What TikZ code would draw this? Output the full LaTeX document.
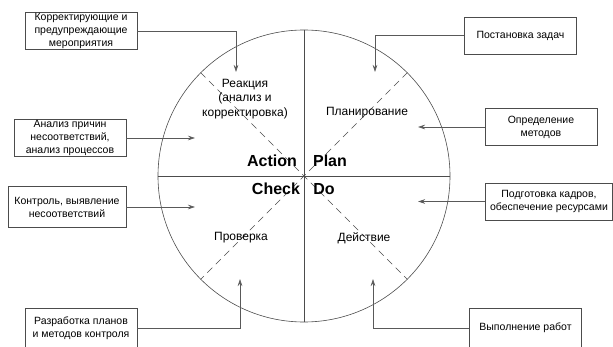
\documentclass[tikz,border=0pt]{standalone}
\usepackage{fontspec}
\setmainfont{Liberation Sans}
\usetikzlibrary{arrows.meta,positioning,calc}

\begin{document}
\begin{tikzpicture}[x=1pt,y=-1pt,>={Stealth[length=7pt,width=4.5pt]},
  line width=0.6pt,
  box/.style={rectangle,draw=black!70,align=center,inner sep=1pt,
    font=\fontsize{10.5}{13}\selectfont,minimum width=112pt,minimum height=37pt},
  phase/.style={font=\fontsize{16}{18}\selectfont\bfseries},
  stage/.style={align=center,font=\fontsize{12}{14.5}\selectfont},
  link/.style={->,draw=black!65}]
    \useasboundingbox (0,0) rectangle (613,347);
    \clip (0,0) rectangle (613,347);

    % the cycle
    \node[circle,draw=black!70,minimum size=292pt,inner sep=0pt](cyc) at (304,176) {};
    \draw[black!70] (cyc.north) -- (cyc.south)
                    (cyc.west) -- (cyc.east);
    \draw[black!70,dash pattern=on 7pt off 5pt] (cyc.45) -- (cyc.225)
                    (cyc.135) -- (cyc.315);

    \node[stage](react) at (245,99) {Реакция\\(анализ и\\корректировка)};
    \node[stage](plan) at (367,113) {Планирование};
    \node[stage](check) at (241,238) {Проверка};
    \node[stage](act) at (364,238) {Действие};
    \node[phase](A) at (272,161) {Action};
    \node[phase](P) at (330,161) {Plan};
    \node[phase](C) at (276,189) {Check};
    \node[phase](D) at (324,189) {Do};

    % the boxes
    \node[box](korr) at (81,31) {Корректирующие и\\предупреждающие\\мероприятия};
    \node[box](post) at (520.5,35.5) {Постановка задач};
    \node[box](anal) at (70,138) {Анализ причин\\несоответствий,\\анализ процессов};
    \node[box,minimum width=118pt,minimum height=41pt](kontr) at (67,207) {Контроль, выявление\\несоответствий};
    \node[box,minimum height=39pt](razr) at (81,328) {Разработка планов\\и методов контроля};
    \node[box](opred) at (541,127) {Определение\\методов};
    \node[box,minimum width=127pt](podg) at (549,201.5) {Подготовка кадров,\\обеспечение ресурсами};
    \node[box,minimum height=39pt](vyp) at (525.5,328) {Выполнение работ};

    \coordinate (tK) at (236,72);
    \coordinate (tP) at (375,72);
    \coordinate (tAn) at (195,138);
    \coordinate (tKo) at (195,207);
    \coordinate (tR) at (240,279);
    \coordinate (tO) at (418,127);
    \coordinate (tD) at (418,201.5);
    \coordinate (tV) at (373,279);

    \draw[link] (korr.east) -| (tK);
    \draw[link] (post.west) -| (tP);
    \draw[link] (anal.east) -- (tAn);
    \draw[link] (kontr.east) -- (tKo);
    \draw[link] (razr.east) -| (tR);
    \draw[link] (opred.west) -- (tO);
    \draw[link] (podg.west) -- (tD);
    \draw[link] (vyp.west) -| (tV);
\end{tikzpicture}
\end{document}
